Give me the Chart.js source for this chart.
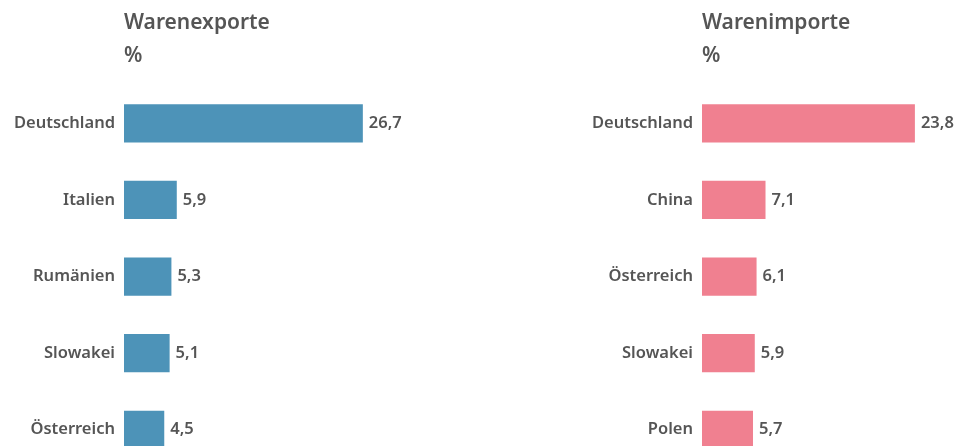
<!DOCTYPE html>
<html>
<head>
<meta charset="utf-8">
<script src="https://cdn.jsdelivr.net/npm/chart.js@4"></script>
<style>
  html, body { margin: 0; padding: 0; background: #fff; overflow: hidden; }
  body { width: 960px; height: 446px; position: relative; font-family: "Noto Sans", sans-serif; }
  .box { position: absolute; top: 0; }
  canvas { display: block; }
  .title { position: absolute; left: 124px; font-weight: 600; font-size: 21px; color: #555; line-height: 33px; top: 5px; white-space: nowrap; }
</style>
</head>
<body>
<div class="box" style="left:0"><canvas id="exportChart" width="450" height="479"></canvas>
  <div class="title">Warenexporte<br>%</div></div>
<div class="box" style="left:578px"><canvas id="importChart" width="382" height="479"></canvas>
  <div class="title">Warenimporte<br>%</div></div>
<script>
// Warenexporte, Anteil in %
const exportLabels = ['Deutschland', 'Italien', 'Rumänien', 'Slowakei', 'Österreich'];
const exportValues = [26.7, 5.9, 5.3, 5.1, 4.5];

// Warenimporte, Anteil in %
const importLabels = ['Deutschland', 'China', 'Österreich', 'Slowakei', 'Polen'];
const importValues = [23.8, 7.1, 6.1, 5.9, 5.7];

const textColor = '#555555';

const valueLabels = {
    id: 'valueLabels',
    afterDatasetsDraw(chart) {
        const ctx = chart.ctx;
        const meta = chart.getDatasetMeta(0);
        ctx.save();
        ctx.font = '600 16.5px "Noto Sans", sans-serif';
        ctx.fillStyle = textColor;
        ctx.textAlign = 'left';
        ctx.textBaseline = 'middle';
        meta.data.forEach(function(bar, i) {
            const v = chart.data.datasets[0].data[i];
            ctx.fillText(v.toLocaleString('de-DE', {minimumFractionDigits: 1}), bar.x + 6, bar.y);
        });
        ctx.restore();
    }
};

function makeChart(id, labels, values, color, padRight) {
    const ctx = document.getElementById(id).getContext('2d');
    return new Chart(ctx, {
        type: 'bar',
        data: {
            labels: labels,
            datasets: [{
                data: values,
                backgroundColor: color,
                borderWidth: 0,
                categoryPercentage: 1,
                barPercentage: 0.5
            }]
        },
        options: {
            indexAxis: 'y',
            responsive: false,
            animation: false,
            layout: { padding: { top: 85, right: padRight, bottom: 0, left: 0 } },
            plugins: { legend: { display: false }, tooltip: { enabled: false } },
            scales: {
                x: { display: false, min: 0, max: 27.5 },
                y: {
                    grid: { display: false },
                    border: { display: false },
                    ticks: {
                        color: textColor,
                        padding: 1,
                        font: { family: '"Noto Sans", sans-serif', size: 16.5, weight: '600' }
                    },
                    afterFit: function(scale) { scale.width = 124; }
                }
            }
        },
        plugins: [valueLabels]
    });
}

makeChart('exportChart', exportLabels, exportValues, '#4d93b8', 80);
makeChart('importChart', importLabels, importValues, '#f08090', 12);
</script>
</body>
</html>
